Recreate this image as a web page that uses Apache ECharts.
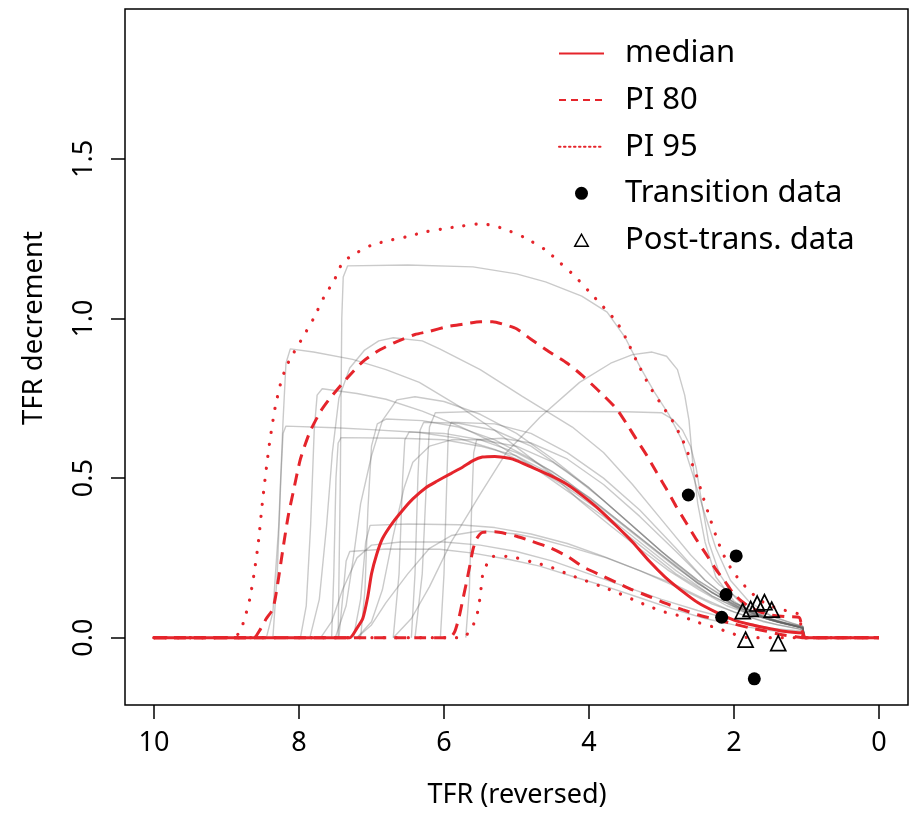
<!DOCTYPE html>
<html>
<head>
<meta charset="utf-8">
<script src="https://cdn.jsdelivr.net/npm/echarts@6/dist/echarts.min.js"></script>
<style>
html,body{margin:0;padding:0;background:#fff;}
#chart{width:910px;height:818px;}
</style>
</head>
<body>
<div id="chart"></div>
<script>
// ---- Data (x = TFR, y = TFR decrement) ----
const xTicks = [0, 2, 4, 6, 8, 10];
const yTicks = [0, 0.5, 1.0, 1.5];

const median = [[10,0],[7.3,0],[7.2,0.03],[7.12,0.06],[7.05,0.13],[7.0,0.2],[6.93,0.26],[6.85,0.31],[6.71,0.36],[6.55,0.405],[6.43,0.435],[6.25,0.47],[6.1,0.49],[5.9,0.515],[5.74,0.535],[5.6,0.555],[5.47,0.566],[5.3,0.568],[5.1,0.562],[5.0,0.555],[4.8,0.535],[4.55,0.51],[4.3,0.48],[4.09,0.445],[3.85,0.4],[3.62,0.35],[3.4,0.3],[3.17,0.24],[2.95,0.19],[2.71,0.145],[2.5,0.11],[2.25,0.08],[2.0,0.055],[1.79,0.042],[1.55,0.03],[1.34,0.021],[1.15,0.016],[1.05,0.015],[1.02,0],[0,0]];

const pi80Upper = [[10,0],[8.62,0],[8.55,0.02],[8.45,0.06],[8.36,0.09],[8.3,0.16],[8.22,0.28],[8.15,0.38],[8.08,0.456],[7.98,0.56],[7.85,0.645],[7.7,0.71],[7.58,0.748],[7.35,0.81],[7.12,0.865],[6.9,0.9],[6.65,0.928],[6.4,0.95],[6.2,0.96],[5.95,0.975],[5.74,0.982],[5.5,0.99],[5.33,0.99],[5.15,0.98],[5.0,0.968],[4.8,0.935],[4.55,0.896],[4.3,0.86],[4.09,0.821],[3.85,0.77],[3.62,0.717],[3.48,0.67],[3.35,0.623],[3.2,0.57],[3.07,0.519],[2.93,0.465],[2.8,0.412],[2.66,0.36],[2.52,0.308],[2.38,0.26],[2.25,0.214],[2.12,0.175],[2.02,0.142],[1.9,0.115],[1.79,0.097],[1.65,0.082],[1.52,0.072],[1.3,0.066],[1.1,0.063],[1.02,0],[0,0]];

const pi80Lower = [[10,0],[5.92,0],[5.85,0.02],[5.79,0.066],[5.74,0.12],[5.69,0.173],[5.64,0.23],[5.6,0.277],[5.55,0.31],[5.47,0.33],[5.3,0.332],[5.0,0.318],[4.8,0.303],[4.55,0.283],[4.3,0.255],[4.09,0.223],[3.85,0.197],[3.62,0.173],[3.4,0.15],[3.17,0.129],[2.95,0.108],[2.71,0.088],[2.5,0.072],[2.25,0.057],[2.0,0.043],[1.79,0.031],[1.55,0.02],[1.34,0.009],[1.15,0.003],[1.05,0],[0,0]];

const pi95Upper = [[10,0],[8.92,0],[8.82,0.016],[8.75,0.06],[8.68,0.12],[8.62,0.2],[8.56,0.3],[8.5,0.434],[8.44,0.55],[8.4,0.62],[8.33,0.72],[8.25,0.8],[8.17,0.852],[8.08,0.89],[7.95,0.94],[7.8,1.0],[7.65,1.07],[7.52,1.117],[7.4,1.175],[7.25,1.2],[7.0,1.23],[6.75,1.245],[6.52,1.256],[6.25,1.272],[6.04,1.28],[5.75,1.29],[5.48,1.297],[5.3,1.29],[5.16,1.28],[4.9,1.255],[4.6,1.215],[4.4,1.175],[4.2,1.134],[4.0,1.085],[3.8,1.036],[3.62,0.99],[3.49,0.938],[3.35,0.87],[3.17,0.79],[3.0,0.73],[2.85,0.68],[2.71,0.62],[2.61,0.563],[2.52,0.51],[2.44,0.45],[2.34,0.38],[2.25,0.32],[2.16,0.267],[2.05,0.22],[1.93,0.182],[1.8,0.15],[1.65,0.119],[1.5,0.1],[1.34,0.088],[1.2,0.08],[1.1,0.072],[1.03,0],[0,0]];

const pi95Lower = [[10,0],[5.74,0],[5.62,0.03],[5.55,0.066],[5.5,0.13],[5.47,0.192],[5.4,0.235],[5.33,0.255],[5.15,0.255],[5.0,0.25],[4.8,0.238],[4.55,0.223],[4.3,0.2],[4.09,0.182],[3.85,0.162],[3.62,0.142],[3.4,0.12],[3.17,0.098],[2.95,0.08],[2.71,0.066],[2.5,0.048],[2.25,0.031],[2.05,0.015],[1.89,0.003],[1.8,0],[0,0]];

const transitionData = [[2.63,0.447],[1.97,0.256],[2.11,0.135],[2.17,0.064],[1.72,-0.129]];
const postTransData = [[1.88,0.083],[1.77,0.09],[1.68,0.107],[1.58,0.111],[1.48,0.088],[1.84,-0.006],[1.39,-0.017]];

// individual country trajectories (gray)
const gray1 = [[7.46,0],[7.43,0.5],[7.41,1.0],[7.39,1.13],[7.33,1.165],[6.5,1.168],[5.6,1.162],[5.0,1.14],[4.6,1.115],[4.1,1.07],[3.75,1.02],[3.5,0.94],[3.3,0.85],[3.1,0.77],[2.9,0.70],[2.72,0.62],[2.58,0.52],[2.42,0.40],[2.25,0.28],[2.05,0.18],[1.8,0.115],[1.5,0.07],[1.2,0.045],[1.05,0.035],[1.03,0]];
const gray2 = [[8.45,0],[8.36,0.08],[8.28,0.35],[8.22,0.68],[8.18,0.86],[8.12,0.905],[7.8,0.895],[7.26,0.872],[6.8,0.84],[6.34,0.80],[5.79,0.725],[5.3,0.65],[4.96,0.59],[4.5,0.51],[4.13,0.43],[3.7,0.35],[3.31,0.28],[2.9,0.21],[2.48,0.15],[2.1,0.1],[1.79,0.074],[1.4,0.05],[1.05,0.033],[1.03,0]];
const gray3 = [[7.98,0],[7.9,0.1],[7.84,0.35],[7.79,0.65],[7.75,0.76],[7.68,0.78],[7.2,0.765],[6.8,0.747],[6.3,0.71],[5.79,0.663],[5.3,0.61],[4.8,0.54],[4.3,0.46],[3.8,0.38],[3.3,0.29],[2.8,0.2],[2.3,0.13],[1.8,0.075],[1.4,0.05],[1.05,0.035],[1.03,0]];
const gray4 = [[8.36,0],[8.3,0.2],[8.25,0.5],[8.22,0.64],[8.18,0.663],[7.5,0.658],[7.0,0.652],[6.34,0.643],[5.8,0.625],[5.3,0.59],[4.8,0.54],[4.3,0.47],[3.8,0.39],[3.3,0.3],[2.8,0.21],[2.3,0.13],[1.8,0.075],[1.4,0.05],[1.05,0.03],[1.03,0]];
const gray5 = [[7.55,0],[7.52,0.2],[7.49,0.5],[7.46,0.61],[7.42,0.627],[6.6,0.625],[6.0,0.62],[5.5,0.6],[5.0,0.57],[4.5,0.51],[4.0,0.44],[3.5,0.35],[3.0,0.26],[2.5,0.17],[2.0,0.1],[1.5,0.055],[1.05,0.03],[1.03,0]];
const gray6 = [[7.85,0],[7.72,0.12],[7.62,0.35],[7.54,0.58],[7.45,0.75],[7.3,0.845],[7.1,0.9],[6.9,0.93],[6.7,0.94],[6.3,0.93],[6.06,0.905],[5.5,0.84],[4.92,0.756],[4.23,0.66],[3.8,0.58],[3.4,0.48],[3.0,0.37],[2.6,0.26],[2.2,0.165],[1.8,0.1],[1.4,0.06],[1.05,0.035],[1.03,0]];
const gray7 = [[6.7,0],[6.45,0.06],[6.2,0.16],[5.9,0.3],[5.5,0.45],[5.14,0.58],[4.68,0.69],[4.13,0.80],[3.7,0.86],[3.4,0.887],[3.13,0.895],[2.93,0.882],[2.78,0.84],[2.68,0.76],[2.62,0.68],[2.57,0.55],[2.5,0.42],[2.4,0.3],[2.25,0.19],[2.0,0.115],[1.7,0.07],[1.35,0.045],[1.05,0.03],[1.03,0]];
const gray8 = [[6.4,0],[6.3,0.2],[6.24,0.5],[6.2,0.66],[6.12,0.705],[5.5,0.709],[4.5,0.709],[3.5,0.708],[3.0,0.705],[2.85,0.685],[2.71,0.65],[2.6,0.6],[2.52,0.53],[2.45,0.43],[2.35,0.3],[2.2,0.2],[2.0,0.13],[1.8,0.085],[1.4,0.05],[1.05,0.032],[1.03,0]];
const gray9 = [[6.45,0],[6.4,0.2],[6.36,0.5],[6.33,0.65],[6.28,0.675],[5.8,0.672],[5.3,0.65],[4.8,0.6],[4.3,0.52],[3.8,0.43],[3.3,0.33],[2.8,0.23],[2.3,0.14],[1.8,0.08],[1.4,0.05],[1.05,0.03],[1.03,0]];
const gray10 = [[6.05,0],[6.0,0.2],[5.96,0.5],[5.94,0.65],[5.9,0.675],[5.3,0.67],[4.8,0.64],[4.3,0.58],[3.8,0.5],[3.3,0.4],[2.8,0.28],[2.4,0.18],[2.0,0.11],[1.6,0.065],[1.05,0.03],[1.03,0]];
const gray11 = [[7.5,0],[7.35,0.1],[7.25,0.25],[7.15,0.42],[7.0,0.57],[6.85,0.68],[6.65,0.745],[6.4,0.755],[6.0,0.74],[5.5,0.7],[5.0,0.64],[4.5,0.56],[4.0,0.47],[3.5,0.37],[3.0,0.27],[2.5,0.18],[2.0,0.11],[1.5,0.06],[1.05,0.03],[1.03,0]];
const gray12 = [[7.2,0],[7.0,0.05],[6.85,0.15],[6.7,0.32],[6.55,0.47],[6.43,0.55],[6.2,0.6],[5.9,0.62],[5.5,0.62],[5.0,0.6],[4.5,0.55],[4.0,0.47],[3.5,0.37],[3.0,0.27],[2.5,0.18],[2.0,0.105],[1.5,0.06],[1.05,0.03],[1.03,0]];
const gray13 = [[5.7,0],[5.65,0.15],[5.62,0.4],[5.59,0.58],[5.55,0.62],[5.2,0.625],[4.8,0.61],[4.3,0.56],[3.8,0.48],[3.3,0.38],[2.8,0.27],[2.4,0.18],[2.0,0.11],[1.6,0.065],[1.05,0.03],[1.03,0]];
const gray14 = [[7.25,0],[7.15,0.12],[7.08,0.3],[7.02,0.352],[6.5,0.356],[5.79,0.354],[5.3,0.345],[4.8,0.325],[4.3,0.295],[3.8,0.255],[3.3,0.21],[2.8,0.16],[2.3,0.105],[1.8,0.065],[1.4,0.04],[1.05,0.025],[1.03,0]];
const gray15 = [[7.2,0],[7.0,0.04],[6.8,0.11],[6.5,0.2],[6.2,0.28],[5.9,0.32],[5.5,0.335],[5.0,0.325],[4.68,0.31],[4.2,0.28],[3.76,0.25],[3.3,0.21],[2.85,0.17],[2.4,0.12],[2.0,0.08],[1.6,0.05],[1.05,0.025],[1.03,0]];
const gray16 = [[7.45,0],[7.4,0.12],[7.35,0.24],[7.3,0.27],[6.8,0.278],[6.06,0.277],[5.6,0.265],[5.1,0.245],[4.68,0.224],[4.2,0.19],[3.76,0.16],[3.3,0.125],[2.85,0.09],[2.4,0.06],[2.0,0.04],[1.5,0.022],[1.05,0.012],[1.03,0]];
const gray17 = [[6.7,0],[6.62,0.2],[6.57,0.5],[6.54,0.62],[6.48,0.645],[6.0,0.64],[5.5,0.62],[5.0,0.58],[4.5,0.52],[4.0,0.44],[3.5,0.35],[3.0,0.26],[2.5,0.17],[2.0,0.1],[1.5,0.055],[1.05,0.03],[1.03,0]];
const gray18 = [[7.15,0],[7.09,0.15],[7.05,0.4],[7.0,0.6],[6.92,0.67],[6.8,0.685],[6.3,0.68],[5.8,0.66],[5.3,0.62],[4.8,0.56],[4.3,0.49],[3.8,0.4],[3.3,0.31],[2.8,0.22],[2.3,0.14],[1.8,0.08],[1.4,0.05],[1.05,0.03],[1.03,0]];
const gray19 = [[7.7,0],[7.55,0.05],[7.4,0.15],[7.2,0.25],[7.0,0.29],[6.6,0.3],[6.0,0.3],[5.5,0.29],[5.0,0.27],[4.5,0.24],[4.0,0.2],[3.5,0.16],[3.0,0.12],[2.5,0.085],[2.0,0.055],[1.5,0.03],[1.05,0.02],[1.03,0]];

const grayCurves = [gray1,gray2,gray3,gray4,gray5,gray6,gray7,gray8,gray9,gray10,gray11,gray12,gray13,gray14,gray15,gray16,gray17,gray18,gray19];

// ---- Styles ----
const RED = '#e5242b';
const FONT = "'Noto Sans', 'DejaVu Sans', sans-serif";

const chart = echarts.init(document.getElementById('chart'), null, {renderer: 'canvas'});

const series = [];
grayCurves.forEach(function (c) {
  series.push({
    type: 'line', data: c, symbol: 'none', silent: true, z: 1,
    lineStyle: {color: 'rgba(100,100,100,0.34)', width: 1.4},
    smooth: false
  });
});
series.push({name: 'median', type: 'line', data: median, symbol: 'none', z: 3, smooth: 0.2,
  itemStyle: {color: RED}, lineStyle: {color: RED, width: 3}});
series.push({name: 'PI 80', type: 'line', data: pi80Upper, symbol: 'none', z: 3, smooth: 0.2,
  itemStyle: {color: RED}, lineStyle: {color: RED, width: 3, type: [12, 8]}});
series.push({name: 'PI 80', type: 'line', data: pi80Lower, symbol: 'none', z: 3, smooth: 0.2,
  itemStyle: {color: RED}, lineStyle: {color: RED, width: 3, type: [12, 8]}});
series.push({name: 'PI 95', type: 'line', data: pi95Upper, symbol: 'none', z: 3, smooth: 0.2,
  itemStyle: {color: RED}, lineStyle: {color: RED, width: 3.2, type: [0.1, 12], cap: 'round'}});
series.push({name: 'PI 95', type: 'line', data: pi95Lower, symbol: 'none', z: 3, smooth: 0.2,
  itemStyle: {color: RED}, lineStyle: {color: RED, width: 3.2, type: [0.1, 12], cap: 'round'}});
series.push({name: 'Transition data', type: 'scatter', data: transitionData, symbol: 'circle', symbolSize: 13, z: 5,
  itemStyle: {color: '#000', opacity: 1}});
series.push({name: 'Post-trans. data', type: 'scatter', data: postTransData, symbol: 'triangle', symbolSize: 15, z: 5,
  itemStyle: {color: 'rgba(255,255,255,0)', borderColor: '#000', borderWidth: 1.7, opacity: 1}});

const hiddenSym = {opacity: 0, color: 'transparent', borderWidth: 0};
// legend triangle: padded path so the icon box keeps a small, upright triangle
const legendTriangle = 'path://M0,0 M45,13 M15.8,12.8 L22.5,0.8 L29.2,12.8 Z';

const option = {
  animation: false,
  backgroundColor: '#fff',
  grid: {left: 125, right: 2, top: 9, bottom: 113, show: true, borderColor: '#000', borderWidth: 1.5, backgroundColor: 'transparent'},
  xAxis: {
    type: 'value', min: -0.4, max: 10.4, inverse: true,
    axisLine: {show: false, onZero: false},
    splitLine: {show: false},
    axisTick: {show: true, inside: false, length: 14, customValues: xTicks, lineStyle: {color: '#000', width: 1.5}},
    axisLabel: {show: true, customValues: xTicks, margin: 25, color: '#000', fontSize: 27, fontFamily: FONT,
      formatter: function (v) { return String(v); }}
  },
  yAxis: {
    type: 'value', min: -0.211, max: 1.970,
    axisLine: {show: false, onZero: false},
    splitLine: {show: false},
    axisTick: {show: true, inside: false, length: 14, customValues: yTicks, lineStyle: {color: '#000', width: 1.5}},
    axisLabel: {show: true, customValues: yTicks, margin: 27, rotate: 90, color: '#000', fontSize: 27, fontFamily: FONT,
      formatter: function (v) { return v.toFixed(1); }}
  },
  legend: {
    orient: 'vertical', left: 553, top: 33,
    itemWidth: 45, itemHeight: 13, itemGap: 15.6,
    selectedMode: false,
    textStyle: {fontSize: 31, fontFamily: FONT, color: '#000', lineHeight: 30, padding: [0, 0, 0, 16]},
    data: [
      {name: 'median', itemStyle: hiddenSym},
      {name: 'PI 80', itemStyle: hiddenSym, lineStyle: {type: [7, 5], width: 2}},
      {name: 'PI 95', itemStyle: hiddenSym, lineStyle: {type: [1.5, 3.5], width: 2}},
      {name: 'Transition data'},
      {name: 'Post-trans. data', icon: legendTriangle, itemStyle: {color: 'rgba(255,255,255,0)', borderColor: '#000', borderWidth: 1.5}}
    ]
  },
  graphic: [
    {type: 'text', x: 517, y: 795, style: {text: 'TFR (reversed)', fontSize: 27, fontFamily: FONT, fill: '#000', align: 'center', verticalAlign: 'middle'}},
    {type: 'text', x: 34, y: 328, rotation: Math.PI / 2,
      style: {text: 'TFR decrement', fontSize: 27.5, fontFamily: FONT, fill: '#000', align: 'center', verticalAlign: 'middle'}}
  ],
  series: series
};
chart.setOption(option);
</script>
</body>
</html>
